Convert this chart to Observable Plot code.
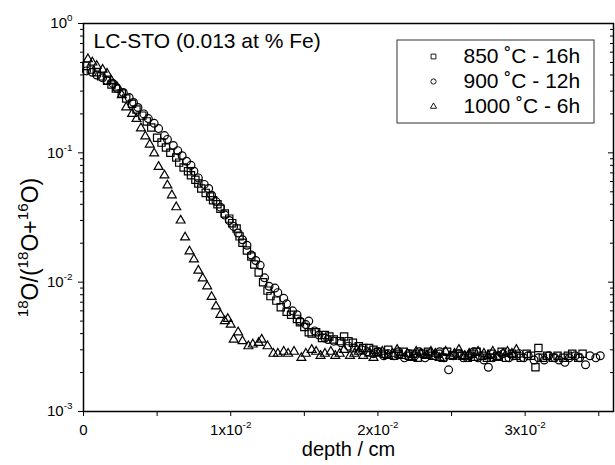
<!DOCTYPE html>
<html>
<head>
<meta charset="utf-8">
<script src="https://cdn.jsdelivr.net/npm/d3@7"></script>
<script src="https://cdn.jsdelivr.net/npm/@observablehq/plot@0.6"></script>
<style>
  body { margin: 0; background: #fff; }
  #chart { width: 615px; height: 465px; }
</style>
</head>
<body>
<div id="chart"></div>
<script>
// ---------- tick values / labels ----------
const xTicks = [0, 0.005, 0.01, 0.015, 0.02, 0.025, 0.03, 0.035];
const xTickText = ["0", "", "1x10^{-2}", "", "2x10^{-2}", "", "3x10^{-2}", ""];
const yMajor = [0.001, 0.01, 0.1, 1];
const yMajorText = ["10^{-3}", "10^{-2}", "10^{-1}", "10^{0}"];
const yMinor = [0.002, 0.003, 0.004, 0.005, 0.006, 0.007, 0.008, 0.009,
                0.02, 0.03, 0.04, 0.05, 0.06, 0.07, 0.08, 0.09,
                0.2, 0.3, 0.4, 0.5, 0.6, 0.7, 0.8, 0.9];

const titleText = "LC-STO (0.013 at % Fe)";
const xLabel = "depth / cm";
const yLabel = "^{18}O/(^{18}O+^{16}O)";
const seriesNames = ["850 ˚C - 16h", "900 ˚C - 12h", "1000 ˚C - 6h"];

// ---------- 850 C - 16h (squares) ----------
const sqDepth = [0.0002,0.0005,0.0009,0.0012,0.0016,0.0019,0.0022,0.0026,0.0029,0.0033,
  0.0036,0.0040,0.0043,0.0046,0.0050,0.0053,0.0056,0.0059,0.0063,0.0065,
  0.0068,0.0071,0.0073,0.0076,0.0078,0.0080,0.0083,0.0086,0.0088,0.0091,
  0.0093,0.0096,0.0099,0.0101,0.0104,0.0106,0.0108,0.0111,0.0114,0.0116,
  0.0119,0.0122,0.0125,0.0127,0.0131,0.0134,0.0138,0.0141,0.0145,0.0147,
  0.0150,0.0153,0.0155,0.0158,0.0162,0.0164,0.0167,0.0170,0.0174,0.0177,
  0.0180,0.0183,0.0187,0.0190,0.0194,0.0197,0.0200,0.0204,0.0207,0.0211,
  0.0214,0.0217,0.0221,0.0224,0.0227,0.0231,0.0234,0.0237,0.0241,0.0244,
  0.0247,0.0251,0.0254,0.0257,0.0261,0.0264,0.0267,0.0271,0.0274,0.0277,
  0.0281,0.0284,0.0287,0.0291,0.0294,0.0297,0.0301,0.0304,0.0307,0.0309,
  0.0312,0.0315,0.0319,0.0322,0.0326,0.0329,0.0332,0.0336,0.0339];
const sqValue = [0.47,0.44,0.42,0.39,0.36,0.338,0.314,0.288,0.263,0.240,
  0.216,0.194,0.175,0.157,0.131,0.120,0.110,0.100,0.092,0.084,
  0.077,0.072,0.067,0.062,0.058,0.053,0.049,0.046,0.043,0.040,
  0.037,0.034,0.031,0.0286,0.026,0.0226,0.0202,0.0176,0.0158,0.0137,
  0.0119,0.0100,0.0086,0.0078,0.0072,0.0064,0.0059,0.0056,0.0052,0.0049,
  0.0045,0.0041,0.0040,0.0041,0.0037,0.0039,0.0038,0.0036,0.0035,0.0038,
  0.0035,0.0034,0.0032,0.0031,0.0031,0.0030,0.0029,0.0028,0.0030,0.0027,
  0.0028,0.0029,0.0027,0.0028,0.0026,0.0028,0.0029,0.0027,0.0028,0.0026,
  0.0029,0.0027,0.0028,0.0027,0.0026,0.0028,0.0029,0.0027,0.0026,0.0028,
  0.0027,0.0029,0.0026,0.0028,0.0027,0.0026,0.0028,0.0027,0.0022,0.0031,
  0.0026,0.0027,0.0026,0.0027,0.0026,0.0027,0.0028,0.0026,0.0028];

// ---------- 900 C - 12h (circles) ----------
const ciDepth = [0.0002,0.0006,0.0009,0.0013,0.0016,0.0020,0.0023,0.0027,0.0031,0.0034,
  0.0037,0.0041,0.0044,0.0048,0.0051,0.0055,0.0057,0.0061,0.0064,0.0067,
  0.0070,0.0073,0.0075,0.0078,0.0082,0.0085,0.0087,0.0090,0.0093,0.0096,
  0.0099,0.0102,0.0105,0.0108,0.0111,0.0114,0.0117,0.0120,0.0123,0.0126,
  0.0130,0.0132,0.0136,0.0138,0.0142,0.0145,0.0147,0.0151,0.0153,0.0157,
  0.0160,0.0164,0.0166,0.0170,0.0175,0.0180,0.0184,0.0189,0.0193,0.0197,
  0.0200,0.0204,0.0207,0.0211,0.0214,0.0218,0.0221,0.0225,0.0228,0.0232,
  0.0235,0.0239,0.0242,0.0245,0.0248,0.0251,0.0255,0.0258,0.0262,0.0265,
  0.0268,0.0272,0.0275,0.0278,0.0282,0.0285,0.0289,0.0292,0.0296,0.0299,
  0.0302,0.0306,0.0309,0.0313,0.0316,0.0320,0.0323,0.0327,0.0330,0.0334,
  0.0337,0.0341,0.0344,0.0348,0.0351];
const ciValue = [0.43,0.42,0.40,0.38,0.362,0.344,0.314,0.293,0.268,0.245,
  0.224,0.200,0.184,0.169,0.154,0.136,0.127,0.114,0.104,0.095,
  0.086,0.080,0.072,0.064,0.057,0.053,0.047,0.042,0.038,0.033,
  0.030,0.027,0.024,0.0213,0.0193,0.0162,0.0147,0.0135,0.0108,0.0093,
  0.0090,0.0083,0.0075,0.0068,0.0060,0.0056,0.0050,0.0047,0.0050,0.0042,
  0.0039,0.0037,0.0036,0.0035,0.0034,0.0032,0.0031,0.0030,0.0029,0.0028,
  0.0029,0.0027,0.0028,0.0027,0.0029,0.0026,0.0028,0.0027,0.0029,0.0026,
  0.0028,0.0027,0.0029,0.0026,0.0021,0.0027,0.0028,0.0026,0.0027,0.0029,
  0.0026,0.0025,0.0022,0.0026,0.0027,0.0028,0.0026,0.0027,0.0028,0.0026,
  0.0027,0.0025,0.0026,0.0025,0.0027,0.0026,0.0025,0.0024,0.0026,0.0027,
  0.0026,0.0023,0.0027,0.0026,0.0027];

// ---------- 1000 C - 6h (triangles) ----------
const trDepth = [0.0003,0.0006,0.0009,0.0013,0.0016,0.0019,0.0023,0.0026,0.0029,0.0033,
  0.0036,0.0039,0.0042,0.0045,0.0048,0.0051,0.0055,0.0057,0.0060,0.0063,
  0.0066,0.0069,0.0072,0.0075,0.0078,0.0081,0.0084,0.0087,0.0090,0.0093,
  0.0096,0.0098,0.0100,0.0102,0.0105,0.0108,0.0112,0.0115,0.0119,0.0121,
  0.0125,0.0129,0.0132,0.0136,0.0139,0.0143,0.0148,0.0151,0.0155,0.0158,
  0.0161,0.0164,0.0168,0.0171,0.0174,0.0177,0.0181,0.0184,0.0187,0.0190,
  0.0194,0.0197,0.0200,0.0203,0.0207,0.0210,0.0213,0.0216,0.0220,0.0223,
  0.0226,0.0229,0.0233,0.0236,0.0239,0.0242,0.0246,0.0249,0.0252,0.0255,
  0.0259,0.0262,0.0265,0.0268,0.0272,0.0275,0.0278,0.0281,0.0285,0.0288,
  0.0291,0.0294];
const trValue = [0.53,0.50,0.47,0.44,0.41,0.36,0.32,0.28,0.225,0.20,
  0.183,0.155,0.134,0.116,0.099,0.078,0.067,0.056,0.047,0.038,
  0.030,0.0222,0.0173,0.0150,0.0123,0.0107,0.0093,0.0077,0.0065,0.0056,
  0.0050,0.0052,0.0047,0.0036,0.0041,0.0035,0.0032,0.0033,0.0034,0.0036,
  0.0032,0.0028,0.0028,0.0029,0.0028,0.0029,0.0026,0.0028,0.0030,0.0029,
  0.0027,0.0028,0.0029,0.0027,0.0028,0.0030,0.0027,0.0028,0.0029,0.0027,
  0.0028,0.0026,0.0028,0.0029,0.0027,0.0028,0.0030,0.0027,0.0028,0.0026,
  0.0029,0.0028,0.0027,0.0029,0.0028,0.0026,0.0029,0.0027,0.0028,0.0030,
  0.0027,0.0028,0.0026,0.0029,0.0028,0.0027,0.0029,0.0026,0.0028,0.0029,
  0.0028,0.0030];

// ---------- build ----------
const series = [
  {name: seriesNames[0], symbol: "square",   r: 4.1, lr: 2.7, depth: sqDepth, value: sqValue},
  {name: seriesNames[1], symbol: "circle",   r: 3.9, lr: 2.6, depth: ciDepth, value: ciValue},
  {name: seriesNames[2], symbol: "triangle", r: 3.3, lr: 2.3, depth: trDepth, value: trValue}
];

const dataMarks = series.map(s => Plot.dot(
  s.depth.map((d, i) => ({depth: d, value: s.value[i]})),
  {x: "depth", y: "value", symbol: s.symbol, r: s.r, fill: "none", stroke: "black", strokeWidth: 1.2}
));

const legendMarks = series.flatMap((s, i) => [
  Plot.dot([s.name], {frameAnchor: "top-left", dx: 350, dy: 33 + 25 * i, symbol: s.symbol, r: s.lr,
    fill: "none", stroke: "black", strokeWidth: 0.9}),
  Plot.text([s.name], {frameAnchor: "top-left", dx: 380, dy: 33 + 25 * i, text: d => d,
    textAnchor: "start", lineAnchor: "middle", fontSize: 21})
]);

const chart = Plot.plot({
  width: 615,
  height: 465,
  marginLeft: 83,
  marginRight: 2,
  marginTop: 23,
  marginBottom: 54,
  style: {fontFamily: "'Liberation Sans', Arial, Helvetica, sans-serif", fontSize: "15px",
          color: "black", background: "white", overflow: "visible"},
  x: {domain: [0, 0.036]},
  y: {type: "log", domain: [0.001, 1]},
  marks: [
    Plot.axisX({ticks: xTicks, tickSize: 5, tickPadding: 8, label: null, fontSize: 15,
      tickFormat: d => xTickText[xTicks.indexOf(d)]}),
    Plot.axisY({ticks: yMajor, tickSize: 5, tickPadding: 6, label: null, fontSize: 15,
      tickFormat: d => yMajorText[yMajor.indexOf(d)]}),
    Plot.axisY({ticks: yMinor, tickSize: 3, label: null, tickFormat: () => ""}),
    Plot.tickY(yMajor, {y: d => d, insetLeft: 525, stroke: "black"}),
    Plot.tickY(yMinor, {y: d => d, insetLeft: 527, stroke: "black"}),
    ...dataMarks,
    Plot.text([titleText], {frameAnchor: "top-left", dx: 10, dy: 18, text: d => d,
      textAnchor: "start", lineAnchor: "middle", fontSize: 21}),
    ...legendMarks,
    Plot.text([xLabel], {frameAnchor: "bottom", dy: 38, text: d => d,
      textAnchor: "middle", lineAnchor: "middle", fontSize: 20}),
    Plot.text([yLabel], {frameAnchor: "left", dx: -53, dy: 30, rotate: -90, text: d => d,
      textAnchor: "middle", lineAnchor: "middle", fontSize: 23}),
    Plot.frame({stroke: "black", strokeWidth: 1.5})
  ]
});

document.getElementById("chart").appendChild(chart);

// legend box
d3.select(chart).append("rect")
  .attr("x", 397).attr("y", 40).attr("width", 197).attr("height", 83)
  .attr("fill", "none").attr("stroke", "#333").attr("stroke-width", 1);

// superscripts: "^{...}" -> raised smaller tspans
d3.select(chart).selectAll("text").each(function () {
  const s = this.textContent;
  if (!s.includes("^{")) return;
  const fs = parseFloat(getComputedStyle(this).fontSize) || 15;
  const parts = s.split(/(\^\{[^}]*\})/).filter(p => p.length);
  while (this.firstChild) this.removeChild(this.firstChild);
  for (const p of parts) {
    const ts = document.createElementNS("http://www.w3.org/2000/svg", "tspan");
    if (p.startsWith("^{")) {
      ts.textContent = p.slice(2, -1);
      ts.setAttribute("font-size", (fs * 0.66).toFixed(1));
      ts.setAttribute("baseline-shift", (fs * 0.45).toFixed(1));
    } else {
      ts.textContent = p;
    }
    this.appendChild(ts);
  }
});
</script>
</body>
</html>
